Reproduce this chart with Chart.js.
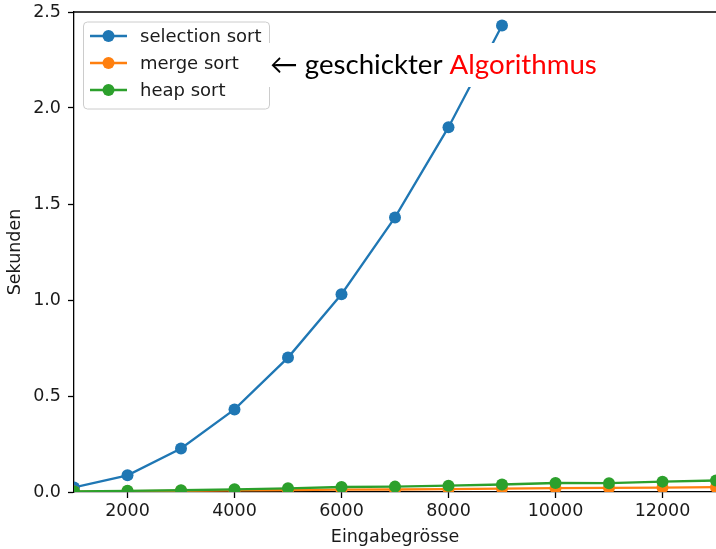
<!DOCTYPE html>
<html><head><meta charset="utf-8">
<script src="https://cdn.jsdelivr.net/npm/chart.js@4/dist/chart.umd.min.js"></script>
<style>html,body{margin:0;padding:0;background:#fff;overflow:hidden}#wrap{width:716px;height:549px}</style>
</head><body><div id="wrap"><canvas id="c" width="716" height="549"></canvas></div>
<script>
const sizes = [1000,2000,3000,4000,5000,6000,7000,8000,9000,10000,11000,12000,13000];
const selectionSizes = [1000,2000,3000,4000,5000,6000,7000,8000,9000];
const selectionSort = [0.024,0.087,0.227,0.43,0.70,1.03,1.43,1.90,2.43];
const mergeSort = [0.002,0.004,0.006,0.008,0.010,0.012,0.013,0.015,0.018,0.020,0.021,0.023,0.025];
const heapSort = [0.003,0.006,0.009,0.014,0.019,0.026,0.028,0.033,0.039,0.047,0.046,0.054,0.060];
const xTicks = [2000,4000,6000,8000,10000,12000];
const yTicks = [0,0.5,1.0,1.5,2.0,2.5];
const seriesLabels = ['selection sort','merge sort','heap sort'];
const seriesColors = ['#1f77b4','#ff7f0e','#2ca02c'];
const annotationParts = ['\u2190 geschickter ', 'Algorithmus'];
const xTitle = 'Eingabegrösse';
const yTitle = 'Sekunden';

const FONT = 'DejaVu Sans';
const pts = (xs, ys) => ys.map((y, i) => ({x: xs[i], y}));

const decorPlugin = {
  id: 'decor',
  afterDatasetsDraw(chart) {
    const ctx = chart.ctx, a = chart.chartArea;
    ctx.save();
    // top spine
    ctx.strokeStyle = '#000'; ctx.lineWidth = 1.3;
    ctx.beginPath(); ctx.moveTo(a.left, a.top); ctx.lineTo(a.right, a.top); ctx.stroke();
    // legend
    const bx = 83.5, by = 22, bw = 186, bh = 87, r = 4;
    ctx.fillStyle = 'rgba(255,255,255,0.8)';
    ctx.strokeStyle = '#cccccc'; ctx.lineWidth = 1;
    ctx.beginPath(); ctx.roundRect(bx, by, bw, bh, r); ctx.fill(); ctx.stroke();
    const rows = [36, 63, 90];
    chart.data.datasets.forEach((ds, i) => {
      const y = rows[i];
      ctx.strokeStyle = ds.borderColor; ctx.lineWidth = 2.4;
      ctx.beginPath(); ctx.moveTo(90, y); ctx.lineTo(127, y); ctx.stroke();
      ctx.fillStyle = ds.borderColor;
      ctx.beginPath(); ctx.arc(108.5, y, 6, 0, Math.PI * 2); ctx.fill();
      ctx.fillStyle = '#1a1a1a'; ctx.font = '18px "' + FONT + '"';
      ctx.textBaseline = 'middle'; ctx.textAlign = 'left';
      ctx.fillText(ds.label, 140, y + 1);
    });
    // annotation
    const x0 = 270, x1 = 597, yMid = 65;
    ctx.font = '100px Lato';
    const full = ctx.measureText(annotationParts[0] + annotationParts[1]).width;
    const fs = 100 * (x1 - x0) / full;
    ctx.font = fs + 'px Lato';
    const w0 = ctx.measureText(annotationParts[0]).width;
    ctx.fillStyle = '#fff';
    ctx.fillRect(x0 - 3, yMid - 22, (x1 - x0) + 6, 44);
    ctx.textBaseline = 'middle'; ctx.textAlign = 'left';
    ctx.fillStyle = '#000'; ctx.fillText(annotationParts[0], x0, yMid);
    ctx.fillStyle = '#ff0000'; ctx.fillText(annotationParts[1], x0 + w0, yMid);
    ctx.restore();
  }
};

new Chart(document.getElementById('c'), {
  type: 'line',
  data: {
    datasets: [
      {label: seriesLabels[0], data: pts(selectionSizes, selectionSort), borderColor: seriesColors[0], backgroundColor: seriesColors[0], order: 2},
      {label: seriesLabels[1], data: pts(sizes, mergeSort), borderColor: seriesColors[1], backgroundColor: seriesColors[1], order: 1},
      {label: seriesLabels[2], data: pts(sizes, heapSort), borderColor: seriesColors[2], backgroundColor: seriesColors[2], order: 0}
    ]
  },
  options: {
    responsive: false, animation: false, devicePixelRatio: 1,
    layout: {autoPadding: false, padding: {top: 12, right: 0, left: 0, bottom: 0}},
    elements: {
      line: {borderWidth: 2.3, tension: 0},
      point: {radius: 6, borderWidth: 0, hoverRadius: 6}
    },
    plugins: {legend: {display: false}, tooltip: {enabled: false}},
    scales: {
      x: {
        type: 'linear', min: 1000, max: 13000,
        afterBuildTicks: s => { s.ticks = xTicks.map(v => ({value: v})); },
        afterFit: s => { s.height = 57; },
        grid: {drawOnChartArea: false, drawTicks: true, tickLength: 6, tickColor: '#000', tickWidth: 1.3},
        border: {color: '#000', width: 1.3},
        ticks: {color: '#1a1a1a', font: {family: FONT, size: 17.5}, padding: 3, maxRotation: 0, autoSkip: false, callback: v => String(v)},
        title: {display: true, text: xTitle, color: '#1a1a1a', font: {family: FONT, size: 17.5}, padding: {top: 0, bottom: 1}}
      },
      y: {
        type: 'linear', min: 0, max: 2.5,
        afterBuildTicks: s => { s.ticks = yTicks.map(v => ({value: v})); },
        afterFit: s => { s.width = 74; s.paddingTop = 0; s.paddingBottom = 0; },
        grid: {drawOnChartArea: false, drawTicks: true, tickLength: 6, tickColor: '#000', tickWidth: 1.3},
        border: {color: '#000', width: 1.3},
        ticks: {color: '#1a1a1a', font: {family: FONT, size: 17.5, lineHeight: 1.0}, padding: 7, autoSkip: false, callback: v => v.toFixed(1)},
        title: {display: true, text: yTitle, color: '#1a1a1a', font: {family: FONT, size: 17.5}, padding: {top: 5, bottom: 0}}
      }
    }
  },
  plugins: [decorPlugin]
});
</script>
</body></html>
